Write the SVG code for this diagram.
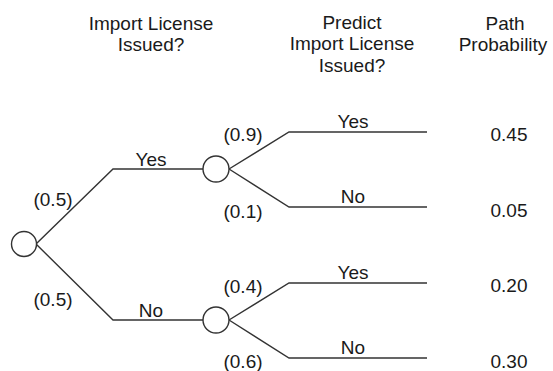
<svg xmlns="http://www.w3.org/2000/svg" width="553" height="371" viewBox="0 0 553 371">
<style>
text{font-family:"Liberation Sans",Arial,sans-serif;font-size:19px;fill:#1a1a1a;text-anchor:middle}
.c{fill:#fff;stroke:#333;stroke-width:1.4}
.e{fill:none;stroke:#333;stroke-width:1.4}
</style>
<rect width="553" height="371" fill="#fff"/>
<g id="headers">
<text x="151" y="30">Import License</text>
<text x="151" y="51">Issued?</text>
<text x="352" y="29">Predict</text>
<text x="352" y="50">Import License</text>
<text x="352" y="72">Issued?</text>
<text x="505" y="30">Path</text>
<text x="503" y="51">Probability</text>
</g>
<g id="connectors">
<path class="e" d="M36,244 L113,169 L203,169"/>
<path class="e" d="M36,244 L113,320 L203,320"/>
<path class="e" d="M229,169 L289,132 L427,132"/>
<path class="e" d="M229,169 L289,207 L427,207"/>
<path class="e" d="M229,320 L289,283 L427,283"/>
<path class="e" d="M229,320 L289,358 L427,358"/>
<text x="151" y="166">Yes</text>
<text x="151" y="317">No</text>
<text x="53" y="206">(0.5)</text>
<text x="53" y="306">(0.5)</text>
<text x="243" y="141">(0.9)</text>
<text x="243" y="218">(0.1)</text>
<text x="243" y="293">(0.4)</text>
<text x="243" y="368">(0.6)</text>
<text x="353" y="128">Yes</text>
<text x="353" y="203">No</text>
<text x="353" y="279">Yes</text>
<text x="353" y="354">No</text>
</g>
<g id="root"><circle class="c" cx="24" cy="244" r="12.5"/></g>
<g id="n-yes"><circle class="c" cx="216" cy="169" r="13"/></g>
<g id="n-no"><circle class="c" cx="216" cy="320" r="13"/></g>
<g id="probabilities">
<text x="509" y="141">0.45</text>
<text x="509" y="217">0.05</text>
<text x="509" y="292">0.20</text>
<text x="509" y="368">0.30</text>
</g>
</svg>
